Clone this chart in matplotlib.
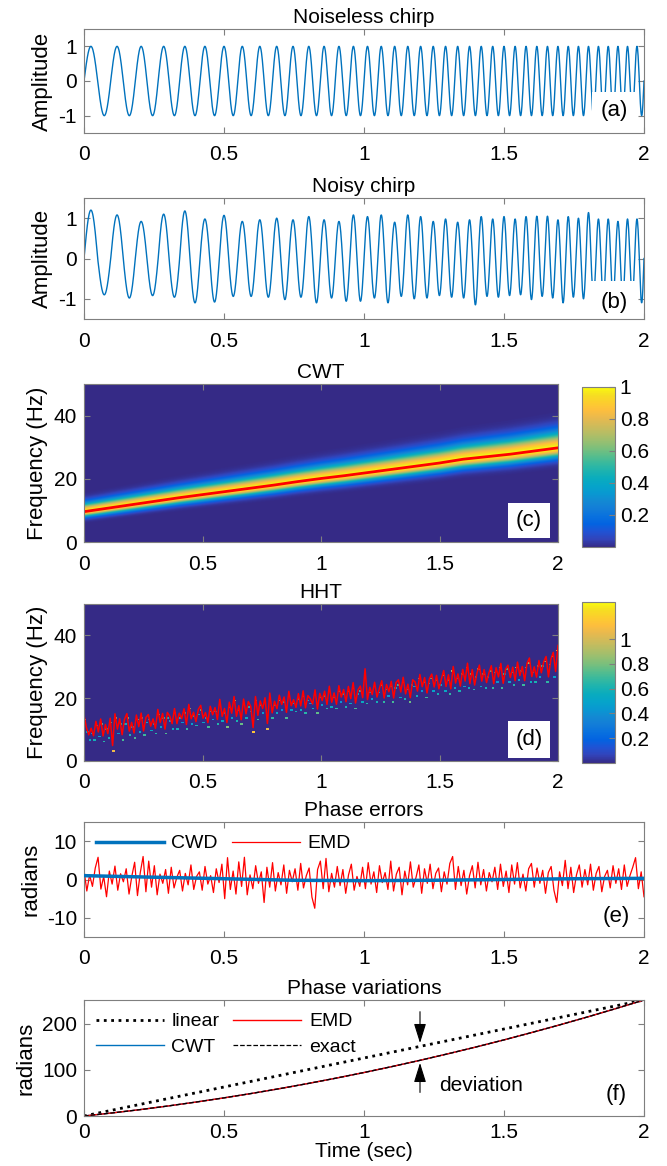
import numpy as np
import matplotlib as mpl
import matplotlib.pyplot as plt
from matplotlib.colors import LinearSegmentedColormap
from matplotlib.patches import Rectangle

mpl.rc("font", family="Liberation Sans", size=15)
mpl.rc("axes", unicode_minus=False)

# ---------------- data ----------------
x_ticks = [0, 0.5, 1, 1.5, 2]
x_ticklabels = ["0", "0.5", "1", "1.5", "2"]

# instantaneous frequency of the chirp (Hz)
freq_t = [0.0, 2.0]
freq_hz = [10.0, 30.0]

# peak / trough heights of each cycle of the noisy chirp
noisy_peaks = [1.20, 1.08, 0.92, 1.10, 1.18, 0.98, 1.07, 0.92, 0.96, 1.00,
               0.96, 1.04, 0.96, 0.92, 1.08, 1.04, 1.08, 0.90, 1.08, 1.04,
               0.92, 0.98, 0.90, 0.96, 1.04, 0.98, 1.04, 0.98, 1.04, 1.05,
               1.05, 0.96, 1.04, 1.00, 1.14, 0.98, 0.98, 0.92, 0.98, 0.98]
noisy_troughs = [-0.90, -0.98, -0.92, -0.96, -1.10, -1.08, -0.94, -0.94, -0.96, -1.02,
                 -0.96, -1.10, -0.98, -1.06, -1.06, -0.98, -1.10, -0.94, -1.00, -0.98,
                 -0.92, -0.96, -0.98, -1.15, -0.94, -0.96, -0.92, -0.90, -1.02, -0.94,
                 -0.98, -1.10, -0.96, -1.00, -0.94, -1.00, -1.00, -1.00, -1.00, -1.10]

# CWT ridge (red line in c) and band widths below / above it
ridge_t = [0.0, 0.1, 0.2, 0.3, 0.4, 0.5, 0.6, 0.7, 0.8, 0.9, 1.0,
           1.1, 1.2, 1.3, 1.4, 1.5, 1.6, 1.7, 1.8, 1.9, 2.0]
ridge_hz = [9.6, 10.7, 11.8, 12.9, 14.0, 15.0, 16.0, 17.0, 18.0, 19.1, 20.1,
            21.0, 22.0, 23.0, 24.0, 25.0, 26.2, 27.0, 27.8, 28.8, 29.8]
band_t = [0.0, 2.0]
band_lo_hz = [1.1, 2.0]
band_hi_hz = [1.8, 3.4]

# HHT instantaneous frequency deviation from the ridge (Hz), 0.01 s steps
hht_dev = [5.0, 1.0, -1.5, 0.5, -2.0, 2.5, -1.0, 3.0, -2.5, 1.0,
           -2.0, 2.8, -6.0, 4.0, -1.0, 2.2, -3.0, 1.8, 3.5, -2.2,
           0.5, -3.0, 2.6, -1.2, 3.0, -2.8, 1.4, 2.2, -1.6, 0.6,
           -2.5, 3.4, -0.9, 1.9, -3.2, 2.0, 0.7, -1.8, 2.9, -2.0,
           1.2, -0.6, 2.4, -2.7, 3.6, -1.1, 0.9, -2.2, 1.6, 2.8,
           -1.4, 0.3, -3.0, 2.1, -0.7, 1.5, -2.4, 3.9, -1.6, 0.8,
           -3.8, 2.6, -1.0, 4.2, -2.2, 1.1, -3.5, 3.0, -1.8, 2.0,
           0.4, -6.5, 3.3, -2.8, 1.7, -0.8, 2.5, -5.8, 3.8, -2.6,
           1.0, -1.5, 2.7, -0.4, 1.9, -3.1, 3.5, -1.2, 0.6, -2.0,
           2.3, -1.7, 3.0, -2.5, 1.3, 0.2, -1.6, 2.8, -3.4, 1.5,
           -0.9, 2.0, -2.3, 3.4, -1.8, 1.1, -2.6, 3.2, -0.5, 1.8,
           -2.2, 2.6, -1.4, 3.6, -3.0, 1.0, 2.2, -1.6, 7.5, -2.4,
           1.4, -1.0, 2.8, -2.0, 0.6, 3.0, -2.6, 1.6, -0.8, 2.4,
           -3.0, 1.8, 2.6, -1.4, 3.2, -2.2, 0.8, -3.6, 2.0, 1.2,
           -1.8, 3.4, -0.6, 2.2, -2.8, 1.6, 3.0, -1.2, 2.4, -2.0,
           0.9, 3.6, -1.6, 2.0, -2.6, 4.4, -1.0, 1.8, -2.2, 3.0,
           -0.8, 4.8, -1.8, 2.6, -2.4, 1.4, 3.8, -1.4, 2.2, -2.0,
           1.0, 3.2, -2.6, 2.4, -0.6, 3.6, -2.8, 1.6, 2.8, -1.2,
           2.0, -2.4, 3.4, -1.0, 1.8, -2.8, 2.6, 4.2, -1.8, 1.2,
           -2.2, 3.0, -1.0, 2.4, 4.0, -2.6, 2.8, 5.0, -1.2, 7.0]

# phase errors (rad)
emd_err = [2.5, -3.0, 1.2, -1.8, 3.0, 5.8, -2.5, 0.8, -4.5, 2.2,
           -1.2, 3.5, -2.8, 1.5, -0.6, 2.8, -3.8, 0.9, 4.5, -4.2,
           1.8, 6.0, -3.2, 4.8, -2.0, 3.6, -4.0, 1.4, -1.0, 2.6,
           -3.6, 3.2, -2.2, 0.6, 2.4, -3.0, 1.6, -1.4, 3.8, -2.6,
           0.8, 2.0, -2.8, 3.4, -1.2, 1.0, -3.4, 2.8, -0.8, 4.0,
           -5.0, 5.7, -2.6, 2.2, -3.8, 4.6, -1.8, 5.8, -4.0, 1.2,
           -2.4, 3.6, -1.0, 2.0, -6.0, 3.2, -2.0, 4.4, -3.0, 1.8,
           -1.4, 3.8, -3.6, 2.4, -0.6, 2.8, -2.8, 4.2, -2.2, 1.0,
           3.0, -4.6, -7.5, 2.6, 4.8, -2.4, 5.5, -3.2, 1.6, -2.0,
           3.4, -1.6, 2.6, -3.6, 1.2, 4.0, -2.8, 0.8, -1.8, 3.2,
           -2.4, 4.4, -1.2, 2.0, -3.4, 3.6, -0.8, 1.8, -2.6, 4.8,
           -3.0, 1.4, 3.2, -4.0, 2.2, -1.4, 4.6, -2.0, 0.6, 3.8,
           -3.6, 2.8, -1.0, 4.0, -2.4, 1.6, 3.0, -3.2, 2.0, -1.2,
           4.2, 6.0, -2.6, 3.4, -1.6, 2.4, -3.8, 1.0, 3.6, -2.2,
           4.5, -1.4, 2.6, -3.0, 1.8, -0.6, 3.2, -2.6, 4.0, -1.8,
           2.2, -3.4, 3.8, -1.2, 4.4, -2.2, 1.4, -3.0, 2.8, 4.2,
           -2.0, 3.0, -1.0, 2.4, -3.6, 1.8, 3.4, -2.8, -6.0, 2.0,
           -1.6, 5.0, -2.4, 3.2, -3.4, 1.2, 3.8, -2.0, 2.6, -1.4,
           4.0, -2.8, 1.6, 3.4, -3.2, 0.8, 2.4, -2.2, 3.6, -1.0,
           2.8, -2.6, 3.8, -1.8, 1.0, 3.2, 5.7, -2.4, 2.0, -4.5]
cwd_t = [0.0, 0.25, 0.5, 0.75, 1.0, 1.25, 1.5, 1.75, 2.0]
cwd_err = [1.0, 0.6, 0.2, -0.2, -0.3, -0.2, 0.0, 0.2, 0.3]

# phase variations (rad)
phase_t = ridge_t
phase_exact = [0.0, 6.6, 13.8, 21.7, 30.2, 39.3, 49.0, 59.4, 70.4, 82.0, 94.2,
               107.1, 120.6, 134.8, 149.5, 164.9, 181.0, 197.6, 214.9, 232.8, 251.3]
linear_t = [0.0, 2.0]
phase_linear = [0.0, 251.3]

# parula colour map
parula = [(0.2081, 0.1663, 0.5292), (0.1959, 0.2645, 0.7279), (0.1253, 0.3242, 0.8303),
          (0.0117, 0.3875, 0.8820), (0.0329, 0.4430, 0.8720), (0.0723, 0.4887, 0.8467),
          (0.0749, 0.5375, 0.8263), (0.0343, 0.5966, 0.8199), (0.0231, 0.6418, 0.7913),
          (0.0384, 0.6743, 0.7436), (0.1133, 0.7015, 0.6859), (0.2178, 0.7250, 0.6193),
          (0.3482, 0.7424, 0.5473), (0.4871, 0.7491, 0.4840), (0.6099, 0.7473, 0.4337),
          (0.7184, 0.7411, 0.3905), (0.8185, 0.7327, 0.3498), (0.9139, 0.7258, 0.3063),
          (0.9938, 0.7455, 0.2403), (0.9880, 0.8066, 0.1794), (0.9626, 0.8705, 0.1309),
          (0.9763, 0.9831, 0.0538)]
cmap = LinearSegmentedColormap.from_list("parula", parula)
blue = "#0072bd"
edge = "#7f7f7f"

# ---------------- derived signals ----------------
t = np.linspace(0, 2, 2001)
f_inst = np.interp(t, freq_t, freq_hz)
phase = 2 * np.pi * np.concatenate([[0], np.cumsum((f_inst[1:] + f_inst[:-1]) / 2 * np.diff(t))])
clean = np.sin(phase)
cyc = np.minimum((phase / (2 * np.pi)).astype(int), len(noisy_peaks) - 1)
noisy = clean * np.where(clean >= 0, np.array(noisy_peaks)[cyc], -np.array(noisy_troughs)[cyc])

W, H = 667, 1166
fig = plt.figure(figsize=(W / 100, H / 100), dpi=100)


def pax(left, top, right, bottom):
    return fig.add_axes([left / W, 1 - bottom / H, (right - left) / W, (bottom - top) / H])


def style(ax, title):
    for s in ax.spines.values():
        s.set_color(edge)
        s.set_linewidth(0.8)
    ax.tick_params(direction="in", top=True, right=True, length=4, color=edge,
                   labelsize=15)
    ax.tick_params(axis="x", pad=9)
    ax.tick_params(axis="y", pad=5)
    ax.set_xlim(0, 2)
    ax.set_xticks(x_ticks)
    ax.set_xticklabels(x_ticklabels)
    ax.set_title(title, fontsize=15, pad=4)


def tag(ax, label, x, y, box=None):
    if box is not None:
        ax.add_patch(Rectangle((box[0], box[1]), box[2] - box[0], box[3] - box[1],
                               facecolor="white", edgecolor="none", zorder=3))
    ax.text(x, y, label, ha="center", va="center", fontsize=16, zorder=4)


# (a)
ax = pax(84, 29, 644, 133)
ax.plot(t, clean, color=blue, lw=1)
ax.set_ylim(-1.5, 1.5)
ax.set_yticks([-1, 0, 1])
ax.set_ylabel("Amplitude", fontsize=16)
style(ax, "Noiseless chirp")
tag(ax, "(a)", 1.895, -0.84, box=(1.815, -1.45, 1.977, -0.32))

# (b)
ax = pax(84, 198, 644, 319)
ax.plot(t, noisy, color=blue, lw=1)
ax.set_ylim(-1.5, 1.5)
ax.set_yticks([-1, 0, 1])
ax.set_ylabel("Amplitude", fontsize=16)
style(ax, "Noisy chirp")
tag(ax, "(b)", 1.895, -1.1, box=(1.81, -1.45, 1.977, -0.55))

# (c)
tt = np.linspace(0, 2, 401)
ff = np.linspace(0, 50, 301)
TT, FF = np.meshgrid(tt, ff)
rid = np.interp(TT, ridge_t, ridge_hz)
sig = np.where(FF >= rid, np.interp(TT, band_t, band_hi_hz), np.interp(TT, band_t, band_lo_hz))
cwt = np.exp(-((FF - rid) ** 2) / (2 * sig ** 2))
ax = pax(84, 384, 558, 542)
im = ax.imshow(cwt, extent=[0, 2, 0, 50], origin="lower", aspect="auto",
               cmap=cmap, vmin=0, vmax=1, interpolation="bilinear")
ax.plot(ridge_t, ridge_hz, color="red", lw=2)
ax.set_ylim(0, 50)
ax.set_yticks([0, 20, 40])
ax.set_ylabel("Frequency (Hz)", fontsize=16)
style(ax, "CWT")
tag(ax, "(c)", 1.878, 6.8, box=(1.79, 1.3, 1.966, 12.3))
cax = pax(582, 387, 615, 547)
cb = fig.colorbar(im, cax=cax)
cb.set_ticks([0.2, 0.4, 0.6, 0.8, 1])
cb.set_ticklabels(["0.2", "0.4", "0.6", "0.8", "1"])
cb.ax.tick_params(direction="in", length=4, color=edge, labelsize=15)
cb.outline.set_edgecolor(edge)

# (d)
hht_t = np.linspace(0, 2, len(hht_dev))
hht_f = np.interp(hht_t, ridge_t, ridge_hz) + np.array(hht_dev)
hht_img = np.zeros((100, len(hht_dev)))
rows = np.clip(((hht_f - 1.5) / 0.5).astype(int), 0, 99)
hht_img[rows, np.arange(len(hht_dev))] = np.clip(0.35 + 0.12 * np.abs(hht_dev), 0, 1.2)
ax = pax(84, 604, 558, 761)
im2 = ax.imshow(hht_img, extent=[0, 2, 0, 50], origin="lower", aspect="auto",
                cmap=cmap, vmin=0, vmax=1.3, interpolation="nearest")
ax.plot(hht_t, hht_f, color="red", lw=1.1)
ax.set_ylim(0, 50)
ax.set_yticks([0, 20, 40])
ax.set_ylabel("Frequency (Hz)", fontsize=16)
style(ax, "HHT")
tag(ax, "(d)", 1.878, 6.8, box=(1.79, 1.0, 1.966, 12.6))
cax = pax(582, 602, 615, 763)
cb = fig.colorbar(im2, cax=cax)
cb.set_ticks([0.2, 0.4, 0.6, 0.8, 1])
cb.set_ticklabels(["0.2", "0.4", "0.6", "0.8", "1"])
cb.ax.tick_params(direction="in", length=4, color=edge, labelsize=15)
cb.outline.set_edgecolor(edge)

# (e)
ax = pax(84, 822, 644, 937)
ax.plot(cwd_t, cwd_err, color=blue, lw=2.5, label="CWD", zorder=3)
ax.plot(np.linspace(0, 2, len(emd_err)), emd_err, color="red", lw=0.9, label="EMD", zorder=2)
ax.set_ylim(-15, 15)
ax.set_yticks([-10, 0, 10])
ax.set_ylabel("radians", fontsize=16)
style(ax, "Phase errors")
ax.legend(loc="upper left", ncol=2, frameon=False, fontsize=14, handlelength=3.5,
          columnspacing=0.7, handletextpad=0.4, borderaxespad=0.2,
          bbox_to_anchor=(0.0, 0.99))
tag(ax, "(e)", 1.9, -9.7)

# (f)
ax = pax(84, 1000, 644, 1116)
l_lin, = ax.plot(linear_t, phase_linear, color="k", lw=2, ls=":", label="linear")
l_cwt, = ax.plot(phase_t, phase_exact, color=blue, lw=1, label="CWT")
l_emd, = ax.plot(phase_t, phase_exact, color="red", lw=1, label="EMD")
l_ex, = ax.plot(phase_t, phase_exact, color="k", lw=0.9, ls="--", label="exact")
ax.set_ylim(0, 251.3)
ax.set_yticks([0, 100, 200])
ax.set_ylabel("radians", fontsize=16)
style(ax, "Phase variations")
ax.tick_params(axis="x", pad=5)
ax.set_xlabel("Time (sec)", fontsize=15, labelpad=0)
ax.legend(handles=[l_lin, l_cwt, l_emd, l_ex], loc="upper left", ncol=2, frameon=False,
          fontsize=14, handlelength=3.5, columnspacing=0.7, handletextpad=0.4,
          labelspacing=0.4, borderaxespad=0.2, bbox_to_anchor=(0.0, 0.99))
ax.annotate("", xy=(1.2, 152), xytext=(1.2, 232),
            arrowprops=dict(arrowstyle="-|>,head_width=0.25,head_length=0.8", color="k", lw=0.8))
ax.annotate("", xy=(1.2, 121), xytext=(1.2, 45),
            arrowprops=dict(arrowstyle="-|>,head_width=0.25,head_length=0.8", color="k", lw=0.8))
ax.text(1.27, 66, "deviation", fontsize=15, va="center")
tag(ax, "(f)", 1.9, 46)

fig.savefig("out.png", dpi=100)
